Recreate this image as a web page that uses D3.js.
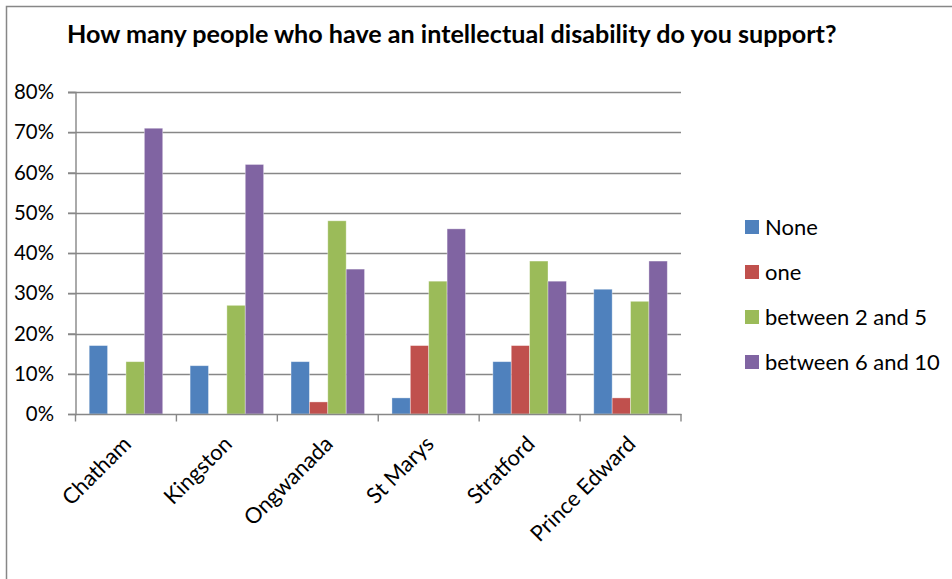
<!DOCTYPE html>
<html>
<head>
<meta charset="utf-8">
<script src="https://cdn.jsdelivr.net/npm/d3@7"></script>
<style>
  html, body { margin: 0; padding: 0; background: #fff; }
  svg { display: block; font-family: Lato, "Open Sans", sans-serif; }
</style>
</head>
<body>
<svg id="chart" width="952" height="579"></svg>
<script>
// Survey: number of people with an intellectual disability supported, by site
const chartTitle = "How many people who have an intellectual disability do you support?";
const sites = ["Chatham", "Kingston", "Ongwanada", "St Marys", "Stratford", "Prince Edward"];
const seriesNames = ["None", "one", "between 2 and 5", "between 6 and 10"];
const seriesColors = ["#4F81BD", "#C0504D", "#9BBB59", "#8064A2"];
const noneValues     = [17, 12, 13,  4, 13, 31];
const oneValues      = [ 0,  0,  3, 17, 17,  4];
const twoToFive      = [13, 27, 48, 33, 38, 28];
const sixToTen       = [71, 62, 36, 46, 33, 38];
const yTicks = [0, 10, 20, 30, 40, 50, 60, 70, 80];

const seriesValues = [noneValues, oneValues, twoToFive, sixToTen];

const svg = d3.select("#chart");
const W = 952, H = 579;

// font size that makes a sample string span the given width
function fitSize(sample, width, weight) {
  const t = svg.append("text").attr("font-size", 20).attr("font-weight", weight || "normal").text(sample);
  const w = t.node().getComputedTextLength();
  t.remove();
  return 20 * width / w;
}
const tickFont = fitSize("80%", 40);
const catFont = fitSize("Prince Edward", 138);
const legendFont = fitSize("between 6 and 10", 175);
const titleFont = fitSize(chartTitle, 770, "bold");

// outer chart frame
svg.append("rect")
  .attr("x", 6.5).attr("y", 6.5)
  .attr("width", W).attr("height", H)
  .attr("fill", "#fff").attr("stroke", "#878787").attr("stroke-width", 1.5);

const plot = { left: 75.5, right: 681, top: 92, bottom: 414 };
const lineColor = "#878787";

const x = d3.scaleBand().domain(sites).range([plot.left, plot.right]).paddingInner(0).paddingOuter(0);
const x1 = d3.scaleBand().domain(seriesNames).range([0, x.bandwidth()]).paddingOuter(0.745).paddingInner(0);
const y = d3.scaleLinear().domain([0, 80]).range([plot.bottom, plot.top]);

// title
svg.append("text")
  .attr("x", 67).attr("y", 43)
  .attr("font-weight", "bold").attr("font-size", titleFont).attr("fill", "#000")
  .text(chartTitle);

// gridlines (with left tick stubs)
svg.append("g").selectAll("line").data(yTicks.filter(d => d > 0)).join("line")
  .attr("x1", plot.left - 7.5).attr("x2", plot.right)
  .attr("y1", d => Math.round(y(d)) + 0.5).attr("y2", d => Math.round(y(d)) + 0.5)
  .attr("stroke", lineColor).attr("stroke-width", 1.4);

// y axis labels via d3 axis
const yAxis = svg.append("g")
  .attr("transform", `translate(${plot.left},0)`)
  .call(d3.axisLeft(y).tickValues(yTicks).tickFormat(d => d + "%").tickSize(7.5).tickPadding(14));
yAxis.select(".domain").attr("stroke", lineColor).attr("stroke-width", 1.4);
yAxis.selectAll(".tick line").attr("stroke", lineColor).attr("stroke-width", 1.4);
yAxis.selectAll(".tick text")
  .attr("font-size", tickFont).attr("fill", "#000")
  .attr("font-family", "Lato, 'Open Sans', sans-serif");

// bars
const groups = svg.append("g").selectAll("g").data(sites).join("g")
  .attr("transform", d => `translate(${x(d)},0)`);
groups.selectAll("rect")
  .data((site, i) => seriesNames.map((name, k) => ({ name, k, v: seriesValues[k][i] })))
  .join("rect")
  .attr("x", d => x1(d.name))
  .attr("width", x1.bandwidth())
  .attr("y", d => y(d.v))
  .attr("height", d => y(0) - y(d.v))
  .attr("fill", d => seriesColors[d.k])
  .attr("stroke", "#ffffff").attr("stroke-opacity", 0.45).attr("stroke-width", 0.8);

// x axis
const xAxis = svg.append("g")
  .attr("transform", `translate(0,${plot.bottom})`)
  .call(d3.axisBottom(x).tickSize(0).tickFormat(""));
xAxis.select(".domain").attr("stroke", lineColor).attr("stroke-width", 1.4);
xAxis.selectAll(".tick").remove();
// tick marks at category boundaries
const edges = sites.map(s => x(s)).concat([plot.right]);
xAxis.selectAll("line.edge").data(edges).join("line")
  .attr("class", "edge")
  .attr("x1", d => d).attr("x2", d => d)
  .attr("y1", 0).attr("y2", 7.5)
  .attr("stroke", lineColor).attr("stroke-width", 1.4);

// rotated category labels
svg.append("g").selectAll("text").data(sites).join("text")
  .attr("transform", d => `translate(${x(d) + x.bandwidth() / 2 + 1},${plot.bottom + 26}) rotate(-45)`)
  .attr("text-anchor", "end")
  .attr("dy", "0.35em")
  .attr("font-size", catFont).attr("fill", "#000")
  .text(d => d);

// legend
const legend = svg.append("g").attr("transform", "translate(745,227)");
const rows = legend.selectAll("g").data(seriesNames).join("g")
  .attr("transform", (d, i) => `translate(0,${i * 45})`);
rows.append("rect")
  .attr("x", 0).attr("y", -7).attr("width", 14).attr("height", 14)
  .attr("fill", (d, i) => seriesColors[i]);
rows.append("text")
  .attr("x", 20).attr("y", 0).attr("dy", "0.35em")
  .attr("font-size", legendFont).attr("fill", "#000")
  .text(d => d);
</script>
</body>
</html>
